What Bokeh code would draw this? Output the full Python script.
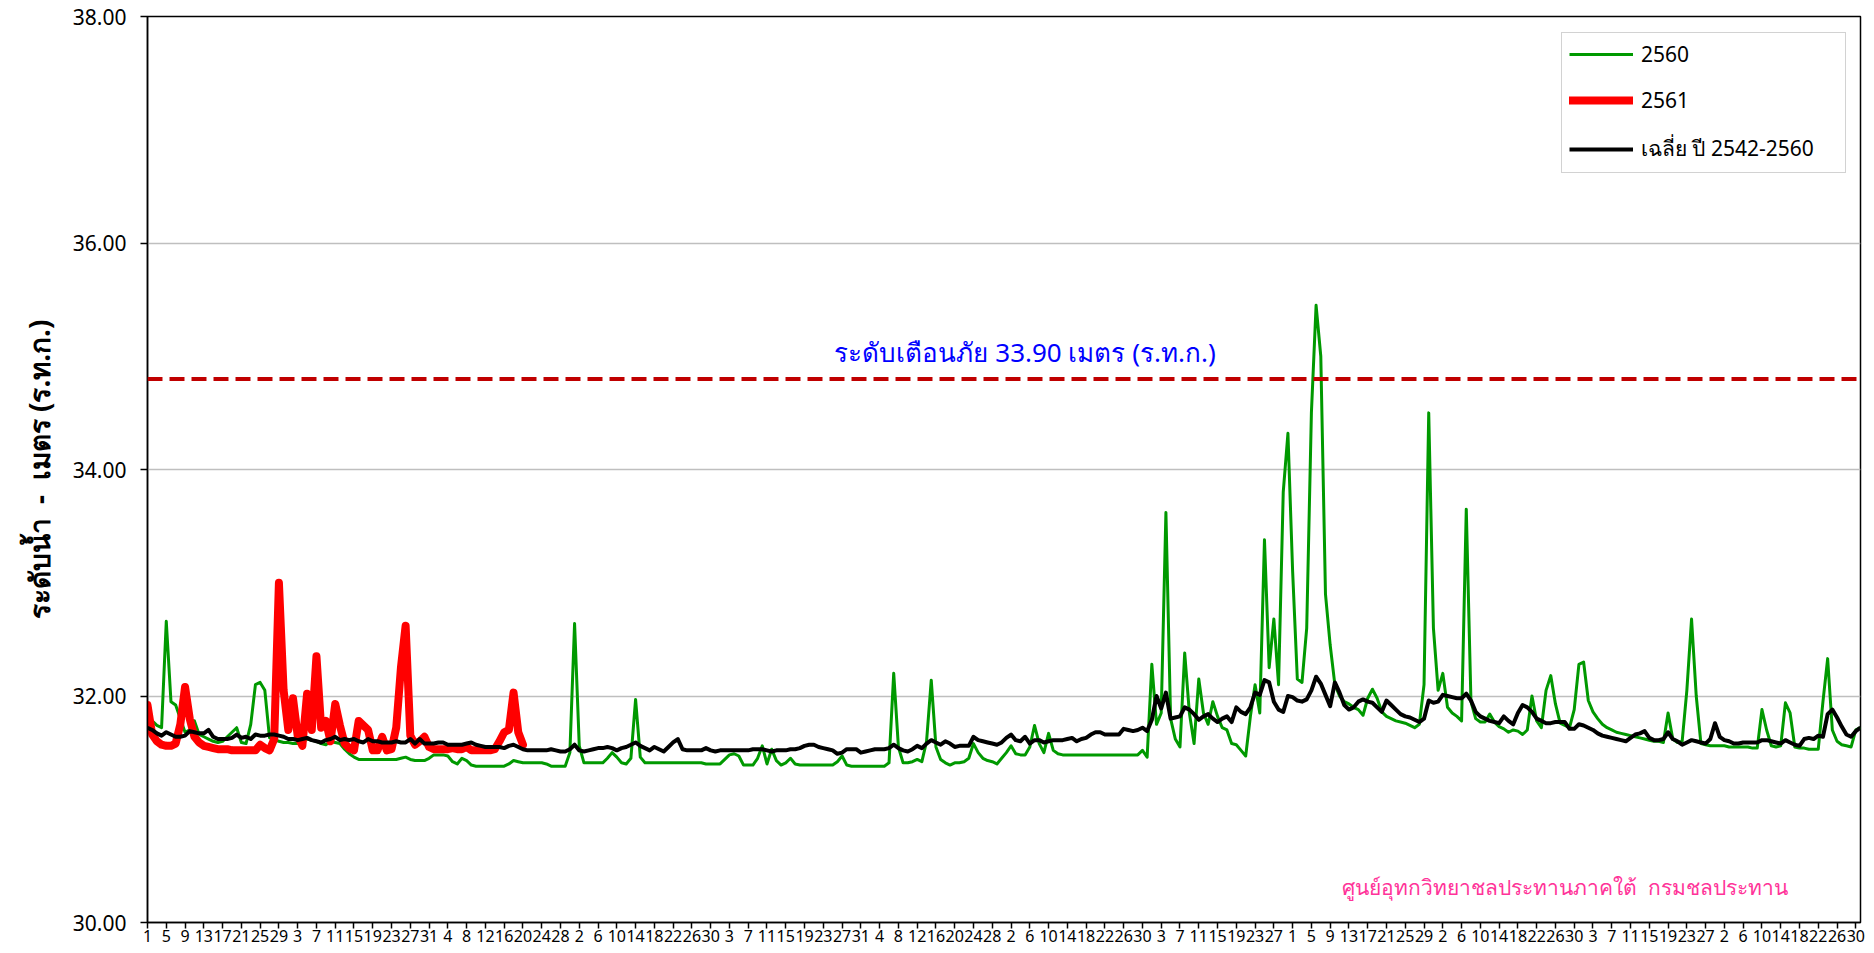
from bokeh.plotting import figure
from bokeh.models import (Range1d, FixedTicker, Span, Label, Legend, LegendItem,
                          NumeralTickFormatter)
from bokeh.embed import file_html
from bokeh.resources import INLINE

# ---------------- data ----------------
# water year: 1 April .. 31 March (template with 29 Feb)
#                Apr May Jun Jul Aug Sep Oct Nov Dec Jan Feb Mar
month_lengths = [30, 31, 30, 31, 31, 30, 31, 30, 31, 31, 29, 31]
day_of_month = [d for m in month_lengths for d in range(1, m + 1)]

series_names = ["2560", "2561", "เฉลี่ย ปี 2542-2560"]
warning_level_text = "ระดับเตือนภัย 33.90 เมตร (ร.ท.ก.)"
warning_level_plot = 34.80
credit_text = "ศูนย์อุทกวิทยาชลประทานภาคใต้\u00a0\u00a0กรมชลประทาน"
y_title = "ระดับน้ำ\u00a0\u00a0-\u00a0\u00a0เมตร (ร.ท.ก.)"

level_2560 = [
    31.76, 31.78, 31.74, 31.72, 32.66, 31.95, 31.92, 31.80, 31.68, 31.70,
    31.78, 31.66, 31.64, 31.62, 31.60, 31.59, 31.60, 31.64, 31.68, 31.72,
    31.59, 31.58, 31.75, 32.10, 32.12, 32.05, 31.63, 31.62, 31.60, 31.59,
    31.59, 31.58, 31.58, 31.59, 31.62, 31.61, 31.60, 31.58, 31.57, 31.60,
    31.59, 31.58, 31.53, 31.49, 31.46, 31.44, 31.44, 31.44, 31.44, 31.44,
    31.44, 31.44, 31.44, 31.44, 31.45, 31.46, 31.44, 31.43, 31.43, 31.43,
    31.45, 31.48, 31.48, 31.48, 31.47, 31.42, 31.40, 31.45, 31.43, 31.39,
    31.38, 31.38, 31.38, 31.38, 31.38, 31.38, 31.38, 31.40, 31.43, 31.42,
    31.41, 31.41, 31.41, 31.41, 31.41, 31.40, 31.38, 31.38, 31.38, 31.38,
    31.50, 32.64, 31.56, 31.41, 31.41, 31.41, 31.41, 31.41, 31.45, 31.50,
    31.46, 31.41, 31.40, 31.45, 31.97, 31.46, 31.41, 31.41, 31.41, 31.41,
    31.41, 31.41, 31.41, 31.41, 31.41, 31.41, 31.41, 31.41, 31.41, 31.40,
    31.40, 31.40, 31.40, 31.44, 31.48, 31.49, 31.47, 31.39, 31.39, 31.39,
    31.45, 31.56, 31.40, 31.53, 31.43, 31.39, 31.41, 31.45, 31.40, 31.39,
    31.39, 31.39, 31.39, 31.39, 31.39, 31.39, 31.39, 31.42, 31.47, 31.39,
    31.38, 31.38, 31.38, 31.38, 31.38, 31.38, 31.38, 31.38, 31.41, 32.20,
    31.55, 31.41, 31.41, 31.42, 31.44, 31.42, 31.60, 32.14, 31.55, 31.44,
    31.41, 31.39, 31.41, 31.41, 31.42, 31.45, 31.58, 31.50, 31.45, 31.43,
    31.42, 31.40, 31.45, 31.50, 31.56, 31.49, 31.48, 31.48, 31.55, 31.74,
    31.58, 31.50, 31.67, 31.52, 31.49, 31.48, 31.48, 31.48, 31.48, 31.48,
    31.48, 31.48, 31.48, 31.48, 31.48, 31.48, 31.48, 31.48, 31.48, 31.48,
    31.48, 31.48, 31.52, 31.46, 32.28, 31.75, 31.85, 33.62, 31.80, 31.62,
    31.55, 32.38, 31.85, 31.58, 32.15, 31.85, 31.75, 31.95, 31.82, 31.72,
    31.70, 31.58, 31.57, 31.52, 31.47, 31.82, 32.10, 31.85, 33.38, 32.25,
    32.68, 32.10, 33.80, 34.32, 33.10, 32.15, 32.12, 32.60, 34.50, 35.45,
    35.00, 32.90, 32.45, 32.10, 32.00, 31.95, 31.93, 31.90, 31.88, 31.83,
    31.98, 32.06, 31.98, 31.86, 31.82, 31.80, 31.78, 31.77, 31.76, 31.74,
    31.72, 31.75, 32.10, 34.50, 32.60, 32.05, 32.20, 31.90, 31.85, 31.82,
    31.78, 33.65, 31.95, 31.80, 31.77, 31.77, 31.84, 31.77, 31.73, 31.71,
    31.68, 31.70, 31.69, 31.66, 31.70, 32.00, 31.78, 31.72, 32.05, 32.18,
    31.93, 31.76, 31.74, 31.72, 31.88, 32.28, 32.30, 31.96, 31.86, 31.80,
    31.75, 31.72, 31.70, 31.68, 31.67, 31.66, 31.65, 31.64, 31.63, 31.62,
    31.61, 31.60, 31.60, 31.59, 31.85, 31.62, 31.59, 31.60, 32.05, 32.68,
    32.00, 31.58, 31.57, 31.56, 31.56, 31.56, 31.56, 31.55, 31.55, 31.55,
    31.55, 31.55, 31.54, 31.54, 31.88, 31.70, 31.56, 31.55, 31.56, 31.94,
    31.85, 31.55, 31.54, 31.54, 31.53, 31.53, 31.53, 31.95, 32.33, 31.70,
    31.60, 31.57, 31.56, 31.55, 31.70, 31.72,
]

level_2561 = [
    31.92, 31.66, 31.60, 31.57, 31.56, 31.56, 31.58, 31.75, 32.08, 31.80,
    31.64, 31.59, 31.56, 31.55, 31.54, 31.53, 31.53, 31.53, 31.52, 31.52,
    31.52, 31.52, 31.52, 31.52, 31.57, 31.54, 31.52, 31.62, 33.00, 32.05,
    31.70, 31.98, 31.65, 31.56, 32.02, 31.70, 32.35, 31.72, 31.78, 31.60,
    31.93, 31.74, 31.58, 31.54, 31.52, 31.78, 31.74, 31.70, 31.52, 31.52,
    31.64, 31.52, 31.53, 31.72, 32.25, 32.62, 31.65, 31.57, 31.60, 31.64,
    31.55, 31.53, 31.53, 31.53, 31.53, 31.54, 31.53, 31.53, 31.55, 31.52,
    31.52, 31.52, 31.52, 31.52, 31.53, 31.60, 31.68, 31.70, 32.03, 31.68,
    31.57,
]

level_avg = [
    31.72, 31.70, 31.67, 31.65, 31.68, 31.66, 31.64, 31.64, 31.65, 31.69,
    31.68, 31.67, 31.67, 31.70, 31.64, 31.62, 31.62, 31.62, 31.63, 31.66,
    31.63, 31.64, 31.62, 31.66, 31.65, 31.65, 31.66, 31.66, 31.65, 31.64,
    31.62, 31.62, 31.61, 31.62, 31.63, 31.61, 31.60, 31.59, 31.61, 31.62,
    31.64, 31.61, 31.62, 31.61, 31.62, 31.60, 31.59, 31.62, 31.60, 31.60,
    31.59, 31.59, 31.59, 31.60, 31.59, 31.59, 31.62, 31.58, 31.62, 31.58,
    31.58, 31.58, 31.59, 31.59, 31.57, 31.57, 31.57, 31.57, 31.58, 31.59,
    31.57, 31.56, 31.55, 31.55, 31.55, 31.55, 31.54, 31.56, 31.57, 31.55,
    31.53, 31.52, 31.52, 31.52, 31.52, 31.52, 31.53, 31.52, 31.51, 31.51,
    31.53, 31.57, 31.52, 31.51, 31.52, 31.53, 31.54, 31.54, 31.55, 31.54,
    31.52, 31.54, 31.55, 31.57, 31.59, 31.56, 31.54, 31.52, 31.55, 31.53,
    31.51, 31.55, 31.59, 31.62, 31.53, 31.52, 31.52, 31.52, 31.52, 31.54,
    31.52, 31.51, 31.52, 31.52, 31.52, 31.52, 31.52, 31.52, 31.52, 31.53,
    31.53, 31.53, 31.52, 31.51, 31.52, 31.52, 31.52, 31.53, 31.53, 31.54,
    31.56, 31.57, 31.57, 31.55, 31.54, 31.53, 31.52, 31.49, 31.50, 31.53,
    31.53, 31.53, 31.50, 31.51, 31.52, 31.53, 31.53, 31.53, 31.54, 31.57,
    31.54, 31.52, 31.51, 31.53, 31.56, 31.54, 31.58, 31.61, 31.59, 31.57,
    31.60, 31.58, 31.55, 31.56, 31.56, 31.56, 31.64, 31.61, 31.60, 31.59,
    31.58, 31.57, 31.59, 31.63, 31.66, 31.61, 31.60, 31.64, 31.58, 31.61,
    31.61, 31.59, 31.60, 31.61, 31.61, 31.61, 31.62, 31.63, 31.60, 31.62,
    31.63, 31.66, 31.68, 31.68, 31.66, 31.66, 31.66, 31.66, 31.71, 31.70,
    31.69, 31.70, 31.72, 31.69, 31.79, 32.00, 31.89, 32.03, 31.80, 31.81,
    31.82, 31.90, 31.88, 31.84, 31.79, 31.82, 31.84, 31.80, 31.77, 31.80,
    31.82, 31.77, 31.90, 31.86, 31.84, 31.90, 32.03, 32.01, 32.14, 32.12,
    31.95, 31.88, 31.86, 32.00, 31.99, 31.96, 31.95, 31.97, 32.05, 32.17,
    32.11, 32.01, 31.91, 32.12, 32.03, 31.92, 31.88, 31.90, 31.95, 31.97,
    31.95, 31.94, 31.90, 31.86, 31.96, 31.92, 31.88, 31.84, 31.82, 31.81,
    31.79, 31.77, 31.80, 31.96, 31.94, 31.95, 32.01, 32.00, 31.99, 31.98,
    31.98, 32.02, 31.96, 31.86, 31.82, 31.80, 31.78, 31.77, 31.76, 31.82,
    31.78, 31.75, 31.85, 31.92, 31.90, 31.86, 31.80, 31.78, 31.76, 31.76,
    31.77, 31.77, 31.77, 31.71, 31.71, 31.75, 31.74, 31.72, 31.70, 31.67,
    31.65, 31.64, 31.63, 31.62, 31.61, 31.60, 31.63, 31.66, 31.67, 31.69,
    31.63, 31.61, 31.61, 31.62, 31.68, 31.62, 31.60, 31.57, 31.59, 31.61,
    31.60, 31.59, 31.58, 31.62, 31.76, 31.64, 31.61, 31.60, 31.58, 31.58,
    31.59, 31.59, 31.59, 31.59, 31.61, 31.61, 31.60, 31.59, 31.58, 31.61,
    31.59, 31.57, 31.56, 31.62, 31.63, 31.62, 31.65, 31.64, 31.84, 31.88,
    31.81, 31.73, 31.66, 31.64, 31.69, 31.72,
]

y_ticks = [30, 32, 34, 36, 38]
label_step = 4

# ---------------- figure ----------------
n_days = len(day_of_month)
FONT = "Noto Sans"

p = figure(width=1870, height=950,
           x_range=Range1d(0, n_days - 1), y_range=Range1d(30, 38),
           output_backend="svg", toolbar_location=None,
           min_border_left=147, min_border_right=10,
           min_border_top=16, min_border_bottom=28,
           background_fill_color="white", border_fill_color="white")

p.outline_line_color = "black"
p.outline_line_width = 1.5

# series
r_g = p.line(list(range(len(level_2560))), level_2560, color="#009900",
             line_width=3, line_join="round")
r_r = p.line(list(range(len(level_2561))), level_2561, color="#ff0000",
             line_width=8, line_join="round", line_cap="round")
r_a = p.line(list(range(len(level_avg))), level_avg, color="#000000",
             line_width=4, line_join="round")

# warning level
p.add_layout(Span(location=warning_level_plot, dimension="width",
                  line_color="#c00000", line_width=4, line_dash="15 7"))
p.add_layout(Label(x=187, y=35.04, text=warning_level_text,
                   text_color="#0000ff", text_font=FONT, text_font_size="26px",
                   text_align="center", text_baseline="middle"))
p.add_layout(Label(x=302, y=30.31, text=credit_text,
                   text_color="#ff3399", text_font=FONT, text_font_size="21px",
                   text_align="center", text_baseline="middle"))

# y axis
p.yaxis.ticker = FixedTicker(ticks=y_ticks)
p.yaxis.formatter = NumeralTickFormatter(format="0.00")
p.yaxis.major_tick_out = 7
p.yaxis.major_tick_in = 0
p.yaxis.minor_tick_out = 0
p.yaxis.minor_tick_in = 0
p.yaxis.major_label_standoff = 14
p.yaxis.major_label_text_font = FONT
p.yaxis.major_label_text_font_size = "21px"
p.yaxis.major_label_text_color = "black"
p.yaxis.axis_line_color = "black"
p.yaxis.axis_line_width = 1.5
p.yaxis.major_tick_line_width = 1.5
p.yaxis.axis_label = y_title
p.yaxis.axis_label_text_font = FONT
p.yaxis.axis_label_text_font_size = "28px"
p.yaxis.axis_label_text_font_style = "bold"
p.yaxis.axis_label_text_color = "black"
p.yaxis.axis_label_standoff = 12

p.ygrid.ticker = FixedTicker(ticks=y_ticks)
p.ygrid.grid_line_color = "#bfbfbf"
p.ygrid.grid_line_width = 1.5
p.xgrid.visible = False

# x axis
label_idx = list(range(0, n_days, label_step))
p.xaxis.ticker = FixedTicker(ticks=label_idx)
p.xaxis.major_label_overrides = {i: str(day_of_month[i]) for i in label_idx}
p.xaxis.major_tick_out = 6
p.xaxis.major_tick_in = 0
p.xaxis.minor_tick_out = 0
p.xaxis.minor_tick_in = 0
p.xaxis.major_label_standoff = 1
p.xaxis.major_label_text_font = FONT
p.xaxis.major_label_text_font_size = "16px"
p.xaxis.major_label_text_color = "black"
p.xaxis.axis_line_color = "black"
p.xaxis.axis_line_width = 1.5
p.xaxis.major_tick_line_width = 1.5

# legend
legend = Legend(items=[LegendItem(label=series_names[0], renderers=[r_g]),
                       LegendItem(label=series_names[1], renderers=[r_r]),
                       LegendItem(label=series_names[2], renderers=[r_a])],
                location=(1414, 749))
legend.border_line_color = "#a6a6a6"
legend.border_line_width = 1.5
legend.background_fill_color = "white"
legend.background_fill_alpha = 1
legend.label_text_font = FONT
legend.label_text_font_size = "21px"
legend.label_text_color = "black"
legend.glyph_width = 64
legend.glyph_height = 20
legend.label_height = 20
legend.label_width = 197
legend.label_standoff = 8
legend.spacing = 18
legend.padding = 7
legend.margin = 0
p.add_layout(legend)

open("out.html", "w", encoding="utf-8").write(file_html(p, INLINE, title="water level"))
